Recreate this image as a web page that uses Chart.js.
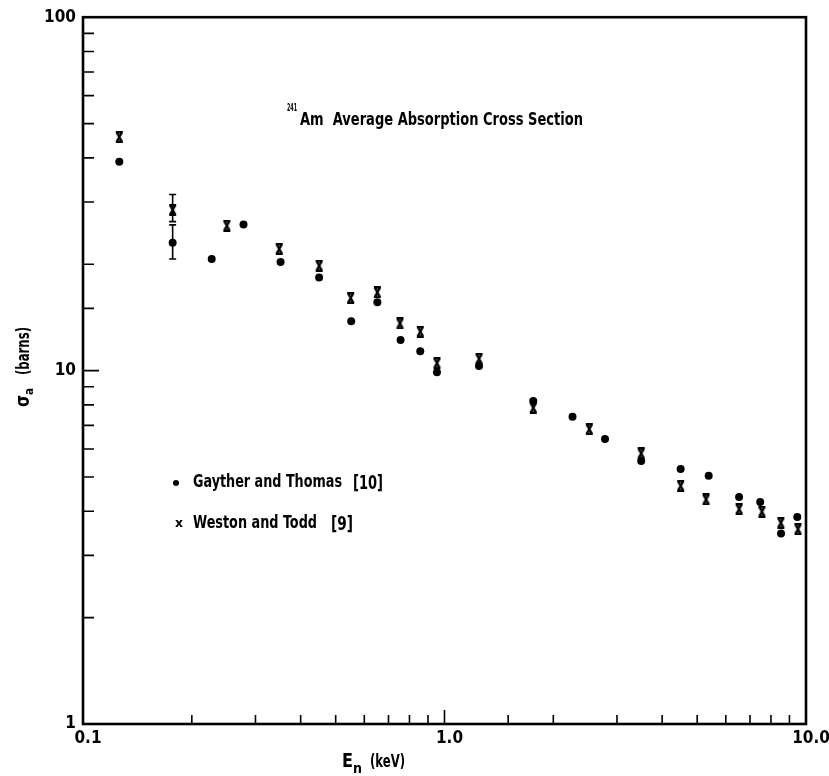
<!DOCTYPE html>
<html>
<head>
<meta charset="utf-8">
<script src="https://cdn.jsdelivr.net/npm/chart.js@4.4.1/dist/chart.umd.min.js"></script>
<style>
  html, body { margin: 0; padding: 0; background: #fff; }
  #wrap { width: 829px; height: 776px; }
</style>
</head>
<body>
<div id="wrap"><canvas id="chart"></canvas></div>
<script>
// 241Am average absorption cross section (barns) vs neutron energy (keV)
const gaytherEnergy = [0.126, 0.177, 0.227, 0.278, 0.352, 0.450, 0.552, 0.652, 0.756, 0.857, 0.953,
                       1.246, 1.76, 2.26, 2.78, 3.50, 4.50, 5.38, 6.53, 7.47, 8.53, 9.46];
const gaytherSigma  = [39.0, 23.0, 20.7, 25.9, 20.3, 18.35, 13.8, 15.6, 12.2, 11.35, 9.9,
                       10.3, 8.2, 7.4, 6.4, 5.55, 5.27, 5.04, 4.39, 4.25, 3.46, 3.85];

const westonEnergy = [0.126, 0.177, 0.250, 0.349, 0.450, 0.550, 0.652, 0.753, 0.857, 0.953,
                      1.246, 1.76, 2.515, 3.50, 4.50, 5.29, 6.53, 7.55, 8.52, 9.50];
const westonSigma  = [45.8, 28.5, 25.7, 22.1, 19.8, 16.05, 16.65, 13.6, 12.9, 10.5,
                      10.8, 7.85, 6.83, 5.83, 4.72, 4.32, 4.06, 3.99, 3.71, 3.56];

// error bars (only the 0.177 keV points have them)
const gaytherErrIndex = [1];
const gaytherErrLow   = [20.7];
const gaytherErrHigh  = [25.85];
const westonErrIndex  = [1];
const westonErrLow    = [26.4];
const westonErrHigh   = [31.5];

const seriesNames = ['Gayther and Thomas', 'Weston and Todd'];
const seriesRefs  = ['[10]', '[9]'];

// labels for the decades 10^-1, 10^0, 10^1 and 10^0 .. 10^2
const xTickLabels = ['0.1', '1.0', '10.0'];
const yTickLabels = ['1', '10', '100'];

const FAMILY = "'DejaVu Sans Condensed', 'DejaVu Sans', sans-serif";

function isDecade(v) {
    const l = Math.log10(v);
    return Math.abs(l - Math.round(l)) < 1e-6;
}

// hourglass shaped "X" used on the original plot
function makeXMark() {
    const c = document.createElement('canvas');
    c.width = 9; c.height = 12;
    const g = c.getContext('2d');
    g.strokeStyle = '#000';
    g.lineWidth = 2.4;
    g.beginPath();
    g.moveTo(1, 1.2); g.lineTo(8, 1.2);
    g.moveTo(1, 10.8); g.lineTo(8, 10.8);
    g.moveTo(2, 1.5); g.lineTo(7, 10.5);
    g.moveTo(7, 1.5); g.lineTo(2, 10.5);
    g.stroke();
    return c;
}
const xMark = makeXMark();

// draws bold text at a given font size, squeezed sideways to a given width
function drawText(ctx, text, x, y, size, width) {
    ctx.save();
    ctx.font = 'bold ' + size + 'px ' + FAMILY;
    const w = ctx.measureText(text).width;
    ctx.translate(x, y);
    if (width) ctx.scale(width / w, 1);
    ctx.fillText(text, 0, 0);
    ctx.restore();
}

const framePlugin = {
    id: 'frame',
    beforeDatasetsDraw(chart) {
        const { ctx, chartArea: a } = chart;
        const xs = chart.scales.x, ys = chart.scales.y;
        ctx.save();
        ctx.strokeStyle = '#000';
        ctx.lineWidth = 1.6;
        ctx.beginPath();
        xs.ticks.forEach(t => {
            if (t.value <= xs.min || t.value >= xs.max) return;
            const px = xs.getPixelForValue(t.value);
            const len = isDecade(t.value) ? 14 : 9;
            ctx.moveTo(px, a.bottom);
            ctx.lineTo(px, a.bottom - len);
        });
        ys.ticks.forEach(t => {
            if (t.value <= ys.min || t.value >= ys.max) return;
            const py = ys.getPixelForValue(t.value);
            const len = isDecade(t.value) ? 16 : 11;
            ctx.moveTo(a.left, py);
            ctx.lineTo(a.left + len, py);
        });
        ctx.stroke();
        ctx.lineWidth = 2.6;
        ctx.strokeRect(a.left, a.top, a.right - a.left, a.bottom - a.top);
        ctx.restore();
    },
    afterDatasetsDraw(chart) {
        const { ctx } = chart;
        const xs = chart.scales.x, ys = chart.scales.y;
        ctx.save();
        ctx.strokeStyle = '#000';
        ctx.lineWidth = 1.6;
        const bars = [
            [gaytherEnergy, gaytherErrIndex, gaytherErrLow, gaytherErrHigh],
            [westonEnergy, westonErrIndex, westonErrLow, westonErrHigh]
        ];
        bars.forEach(([energy, idx, lo, hi]) => {
            idx.forEach((k, j) => {
                const px = xs.getPixelForValue(energy[k]);
                const y1 = ys.getPixelForValue(lo[j]);
                const y2 = ys.getPixelForValue(hi[j]);
                ctx.beginPath();
                ctx.moveTo(px, y1); ctx.lineTo(px, y2);
                ctx.moveTo(px - 3.5, y1); ctx.lineTo(px + 3.5, y1);
                ctx.moveTo(px - 3.5, y2); ctx.lineTo(px + 3.5, y2);
                ctx.stroke();
            });
        });
        ctx.restore();
    },
    afterDraw(chart) {
        const { ctx } = chart;
        ctx.save();
        ctx.fillStyle = '#000';
        ctx.textBaseline = 'alphabetic';
        ctx.textAlign = 'left';

        // title inside the plot
        drawText(ctx, '241', 287, 111, 10, 10);
        drawText(ctx, 'Am  Average Absorption Cross Section', 300, 125, 17, 283);

        // legend
        ctx.beginPath();
        ctx.arc(176, 483, 3, 0, Math.PI * 2);
        ctx.fill();
        drawText(ctx, 'x', 175, 527, 13, 8);
        const names = chart.data.datasets.map(d => d.label);
        drawText(ctx, names[0], 193, 487, 17, 149);
        drawText(ctx, seriesRefs[0], 353, 489, 20, 30);
        drawText(ctx, names[1], 193, 528, 17, 124);
        drawText(ctx, seriesRefs[1], 331, 530, 20, 22);

        // x axis title: E_n (keV)
        drawText(ctx, 'E', 342, 767, 19, 11);
        drawText(ctx, 'n', 353, 773, 14, 9);
        drawText(ctx, '(keV)', 370, 767, 17, 35);

        // y axis title: sigma_a (barns)
        ctx.translate(29, 407);
        ctx.rotate(-Math.PI / 2);
        drawText(ctx, '\u03c3', 0, 0, 20, 12);
        drawText(ctx, 'a', 12, 4, 13, 7);
        drawText(ctx, '(barns)', 32, 0, 18, 48);
        ctx.restore();
    }
};

new Chart(document.getElementById('chart'), {
    type: 'scatter',
    data: {
        datasets: [
            {
                label: seriesNames[0],
                data: gaytherEnergy.map((e, i) => ({ x: e, y: gaytherSigma[i] })),
                pointStyle: 'circle',
                pointRadius: 4,
                pointHoverRadius: 4,
                backgroundColor: '#000',
                borderColor: '#000',
                borderWidth: 0
            },
            {
                label: seriesNames[1],
                data: westonEnergy.map((e, i) => ({ x: e, y: westonSigma[i] })),
                pointStyle: xMark,
                pointRadius: 5,
                backgroundColor: '#000',
                borderColor: '#000'
            }
        ]
    },
    options: {
        responsive: true,
        maintainAspectRatio: false,
        animation: false,
        layout: { padding: { left: 0, right: 23, top: 15, bottom: 0 } },
        plugins: {
            legend: { display: false },
            tooltip: { enabled: false }
        },
        scales: {
            x: {
                type: 'logarithmic',
                min: 0.1,
                max: 10,
                grid: { display: false, drawTicks: false },
                border: { display: false },
                ticks: {
                    autoSkip: false,
                    maxRotation: 0,
                    padding: 4,
                    labelOffset: 5,
                    color: '#000',
                    font: { family: FAMILY, size: 17, weight: 'bold' },
                    callback: v => isDecade(v) ? xTickLabels[Math.round(Math.log10(v)) + 1] : ''
                },
                afterFit: s => { s.height = 52; }
            },
            y: {
                type: 'logarithmic',
                min: 1,
                max: 100,
                grid: { display: false, drawTicks: false },
                border: { display: false },
                ticks: {
                    autoSkip: false,
                    padding: 7,
                    color: '#000',
                    font: { family: FAMILY, size: 17, weight: 'bold' },
                    callback: v => isDecade(v) ? yTickLabels[Math.round(Math.log10(v))] : ''
                },
                afterFit: s => { s.width = 83; }
            }
        }
    },
    plugins: [framePlugin]
});
</script>
</body>
</html>
